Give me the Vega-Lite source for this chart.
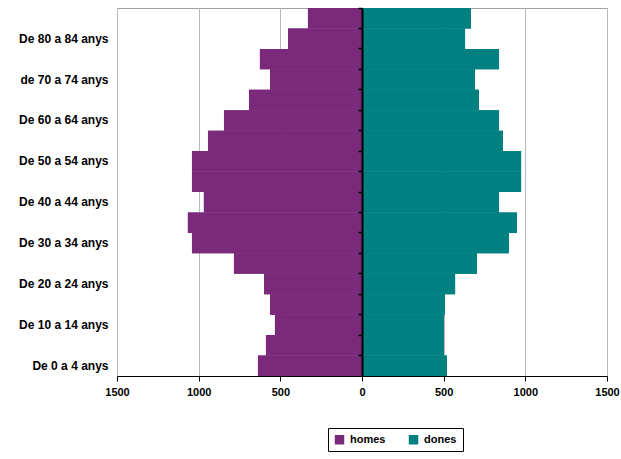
{
  "$schema": "https://vega.github.io/schema/vega-lite/v6.json",
  "width": 490,
  "height": 368,
  "autosize": {"type": "none"},
  "padding": {"left": 117, "top": 8, "right": 14, "bottom": 83},
  "background": "white",
  "config": {
    "view": {"stroke": "#a0a0a0", "strokeWidth": 1},
    "font": "Liberation Sans"
  },
  "data": {
    "values": [
      {"edat": "De 0 a 4 anys", "sexe": "homes", "poblacio": 637},
      {"edat": "De 5 a 9 anys", "sexe": "homes", "poblacio": 588},
      {"edat": "De 10 a 14 anys", "sexe": "homes", "poblacio": 533},
      {"edat": "De 15 a 19 anys", "sexe": "homes", "poblacio": 563},
      {"edat": "De 20 a 24 anys", "sexe": "homes", "poblacio": 600},
      {"edat": "De 25 a 29 anys", "sexe": "homes", "poblacio": 784},
      {"edat": "De 30 a 34 anys", "sexe": "homes", "poblacio": 1041},
      {"edat": "De 35 a 39 anys", "sexe": "homes", "poblacio": 1066},
      {"edat": "De 40 a 44 anys", "sexe": "homes", "poblacio": 968},
      {"edat": "De 45 a 49 anys", "sexe": "homes", "poblacio": 1041},
      {"edat": "De 50 a 54 anys", "sexe": "homes", "poblacio": 1041},
      {"edat": "De 55 a 59 anys", "sexe": "homes", "poblacio": 943},
      {"edat": "De 60 a 64 anys", "sexe": "homes", "poblacio": 845},
      {"edat": "De 65 a 69 anys", "sexe": "homes", "poblacio": 692},
      {"edat": "de 70 a 74 anys", "sexe": "homes", "poblacio": 563},
      {"edat": "De 75 a 79 anys", "sexe": "homes", "poblacio": 625},
      {"edat": "De 80 a 84 anys", "sexe": "homes", "poblacio": 453},
      {"edat": "De 85 i més anys", "sexe": "homes", "poblacio": 331},
      {"edat": "De 0 a 4 anys", "sexe": "dones", "poblacio": 520},
      {"edat": "De 5 a 9 anys", "sexe": "dones", "poblacio": 502},
      {"edat": "De 10 a 14 anys", "sexe": "dones", "poblacio": 502},
      {"edat": "De 15 a 19 anys", "sexe": "dones", "poblacio": 508},
      {"edat": "De 20 a 24 anys", "sexe": "dones", "poblacio": 570},
      {"edat": "De 25 a 29 anys", "sexe": "dones", "poblacio": 704},
      {"edat": "De 30 a 34 anys", "sexe": "dones", "poblacio": 900},
      {"edat": "De 35 a 39 anys", "sexe": "dones", "poblacio": 949},
      {"edat": "De 40 a 44 anys", "sexe": "dones", "poblacio": 839},
      {"edat": "De 45 a 49 anys", "sexe": "dones", "poblacio": 974},
      {"edat": "De 50 a 54 anys", "sexe": "dones", "poblacio": 974},
      {"edat": "De 55 a 59 anys", "sexe": "dones", "poblacio": 863},
      {"edat": "De 60 a 64 anys", "sexe": "dones", "poblacio": 839},
      {"edat": "De 65 a 69 anys", "sexe": "dones", "poblacio": 716},
      {"edat": "de 70 a 74 anys", "sexe": "dones", "poblacio": 692},
      {"edat": "De 75 a 79 anys", "sexe": "dones", "poblacio": 839},
      {"edat": "De 80 a 84 anys", "sexe": "dones", "poblacio": 631},
      {"edat": "De 85 i més anys", "sexe": "dones", "poblacio": 667}
    ]
  },
  "transform": [
    {"calculate": "datum.sexe == 'homes' ? -datum.poblacio : datum.poblacio", "as": "valor"}
  ],
  "layer": [
    {
      "mark": {"type": "bar"},
      "encoding": {
        "y": {
          "field": "edat",
          "type": "nominal",
          "sort": ["De 85 i més anys", "De 80 a 84 anys", "De 75 a 79 anys", "de 70 a 74 anys", "De 65 a 69 anys", "De 60 a 64 anys", "De 55 a 59 anys", "De 50 a 54 anys", "De 45 a 49 anys", "De 40 a 44 anys", "De 35 a 39 anys", "De 30 a 34 anys", "De 25 a 29 anys", "De 20 a 24 anys", "De 15 a 19 anys", "De 10 a 14 anys", "De 5 a 9 anys", "De 0 a 4 anys"],
          "scale": {"paddingInner": 0, "paddingOuter": 0},
          "axis": {
            "values": ["De 80 a 84 anys", "de 70 a 74 anys", "De 60 a 64 anys", "De 50 a 54 anys", "De 40 a 44 anys", "De 30 a 34 anys", "De 20 a 24 anys", "De 10 a 14 anys", "De 0 a 4 anys"],
            "title": null,
            "ticks": false,
            "domain": false,
            "grid": false,
            "labelFontSize": 12,
            "labelFontWeight": "bold",
            "labelColor": "black",
            "labelPadding": 9
          }
        },
        "x": {
          "field": "valor",
          "type": "quantitative",
          "scale": {"domain": [-1500, 1500], "nice": false},
          "axis": {
            "values": [-1500, -1000, -500, 0, 500, 1000, 1500],
            "labelExpr": "format(abs(datum.value), 'd')",
            "title": null,
            "grid": true,
            "gridColor": "#b8b8b8",
            "domainColor": "black",
            "tickColor": "black",
            "tickSize": 5,
            "labelFontSize": 11,
            "labelFontWeight": "bold",
            "labelColor": "black",
            "labelPadding": 5,
            "labelFlush": false
          }
        },
        "color": {
          "field": "sexe",
          "type": "nominal",
          "scale": {"domain": ["homes", "dones"], "range": ["#7b2a7b", "#008080"]},
          "legend": {
            "orient": "none",
            "legendX": 211,
            "legendY": 420,
            "direction": "horizontal",
            "title": null,
            "strokeColor": "black",
            "fillColor": "white",
            "padding": 6,
            "symbolType": "square",
            "symbolSize": 90,
            "symbolStrokeWidth": 0,
            "labelFontSize": 11,
            "labelFontWeight": "bold",
            "labelColor": "black",
            "columnPadding": 22,
            "labelOffset": 5
          }
        }
      }
    },
    {
      "mark": {"type": "bar"},
      "encoding": {
        "y": {
          "field": "edat",
          "type": "nominal",
          "sort": ["De 85 i més anys", "De 80 a 84 anys", "De 75 a 79 anys", "de 70 a 74 anys", "De 65 a 69 anys", "De 60 a 64 anys", "De 55 a 59 anys", "De 50 a 54 anys", "De 45 a 49 anys", "De 40 a 44 anys", "De 35 a 39 anys", "De 30 a 34 anys", "De 25 a 29 anys", "De 20 a 24 anys", "De 15 a 19 anys", "De 10 a 14 anys", "De 5 a 9 anys", "De 0 a 4 anys"],
          "axis": {
            "orient": "left",
            "offset": -245,
            "labels": false,
            "title": null,
            "grid": false,
            "domainColor": "black",
            "domainWidth": 2,
            "tickColor": "black",
            "tickWidth": 1.5,
            "tickSize": 4,
            "bandPosition": 0,
            "zindex": 2
          }
        },
        "x": {"field": "valor", "type": "quantitative"},
        "color": {"field": "sexe", "type": "nominal"}
      }
    }
  ],
  "resolve": {"axis": {"y": "independent"}}
}
